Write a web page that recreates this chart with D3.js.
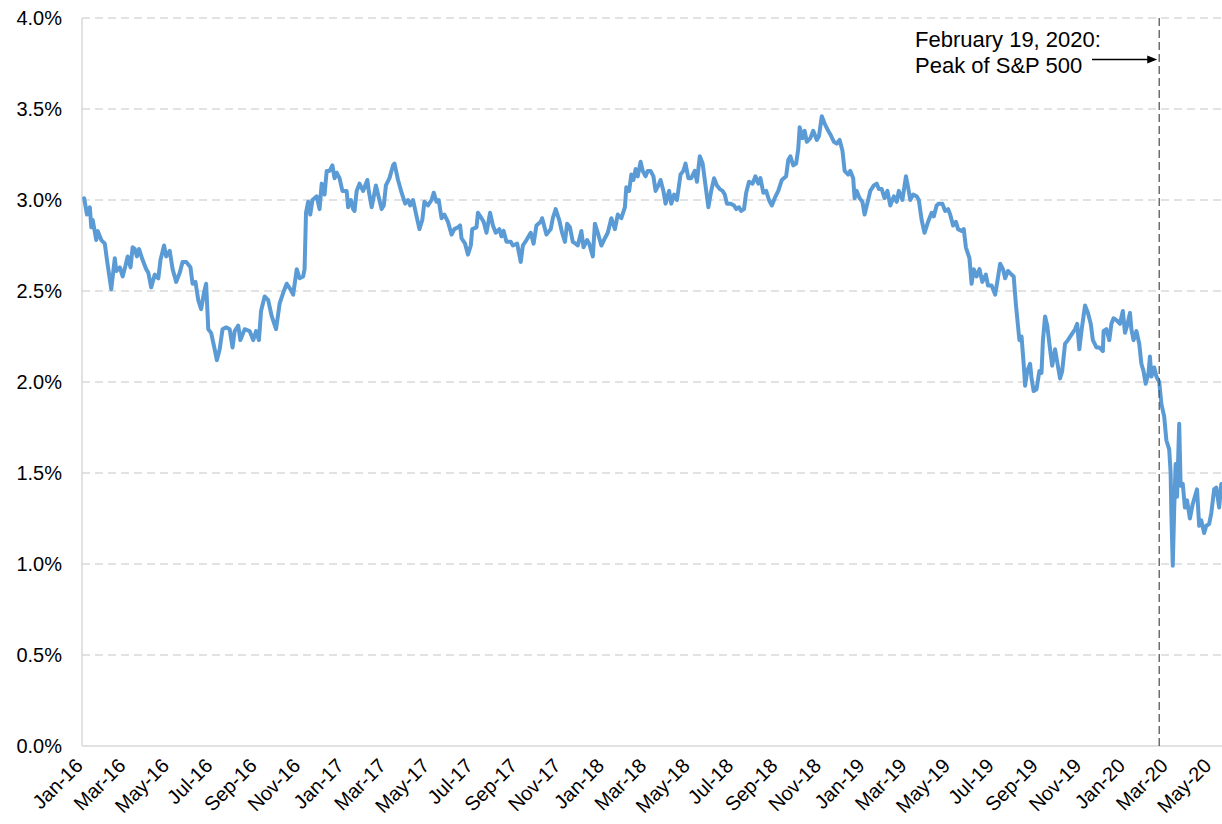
<!DOCTYPE html>
<html>
<head>
<meta charset="utf-8">
<script src="https://cdn.jsdelivr.net/npm/d3@7"></script>
<style>
  body { margin: 0; background: #fff; }
  svg { display: block; font-family: Arial, "Liberation Sans", sans-serif; }
</style>
</head>
<body>
<svg id="chart" width="1222" height="824"></svg>
<script>
// 30-year yield (date, percent)
const yields2016 = [
  ["2016-01-04",3.01],["2016-01-08",2.92],["2016-01-12",2.96],["2016-01-14",2.85],["2016-01-16",2.89],
  ["2016-01-21",2.78],["2016-01-23",2.83],["2016-01-28",2.78],["2016-02-02",2.76],["2016-02-05",2.67],
  ["2016-02-11",2.51],["2016-02-16",2.68],["2016-02-18",2.61],["2016-02-23",2.63],["2016-02-27",2.58],
  ["2016-03-02",2.64],["2016-03-05",2.69],["2016-03-09",2.63],["2016-03-12",2.74],["2016-03-15",2.73],
  ["2016-03-18",2.69],["2016-03-21",2.73],["2016-03-26",2.67],["2016-03-31",2.62],["2016-04-03",2.60],
  ["2016-04-07",2.52],["2016-04-12",2.59],["2016-04-17",2.57],["2016-04-20",2.67],["2016-04-25",2.75],
  ["2016-04-28",2.69],["2016-05-03",2.72],["2016-05-07",2.62],["2016-05-12",2.55],["2016-05-17",2.60],
  ["2016-05-21",2.66],["2016-05-26",2.66],["2016-06-01",2.63],["2016-06-04",2.54],["2016-06-08",2.55],
  ["2016-06-12",2.45],["2016-06-16",2.40],["2016-06-20",2.49],["2016-06-23",2.54],["2016-06-26",2.29],
  ["2016-06-30",2.27],["2016-07-05",2.18],["2016-07-08",2.12],["2016-07-12",2.18],["2016-07-16",2.29],
  ["2016-07-21",2.30],["2016-07-26",2.29],["2016-07-30",2.19],["2016-08-02",2.28],["2016-08-07",2.31],
  ["2016-08-10",2.23],["2016-08-16",2.29],["2016-08-23",2.28],["2016-08-28",2.23],["2016-09-01",2.28],
  ["2016-09-05",2.23],["2016-09-08",2.39],["2016-09-13",2.47],["2016-09-18",2.45],["2016-09-23",2.36],
  ["2016-09-29",2.29],["2016-10-04",2.43],["2016-10-09",2.49],["2016-10-14",2.54],["2016-10-19",2.51],
  ["2016-10-23",2.48],["2016-10-28",2.62],["2016-11-01",2.57],["2016-11-06",2.58],["2016-11-08",2.62],
  ["2016-11-10",2.93],["2016-11-13",2.99],["2016-11-16",2.92],["2016-11-19",3.00],["2016-11-25",3.02],
  ["2016-11-29",2.95],["2016-12-02",3.09],["2016-12-06",3.03],["2016-12-09",3.16],["2016-12-13",3.16],
  ["2016-12-17",3.19],["2016-12-20",3.12],["2016-12-23",3.15],["2016-12-27",3.12],["2016-12-31",3.05]
];
const yields2017 = [
  ["2017-01-06",3.05],["2017-01-08",2.96],["2017-01-12",3.00],["2017-01-15",2.95],["2017-01-17",2.94],
  ["2017-01-20",3.05],["2017-01-24",3.09],["2017-01-29",3.05],["2017-02-04",3.11],["2017-02-06",3.05],
  ["2017-02-10",2.96],["2017-02-16",3.08],["2017-02-19",3.03],["2017-02-24",2.95],["2017-02-27",2.97],
  ["2017-03-02",3.08],["2017-03-07",3.12],["2017-03-12",3.19],["2017-03-14",3.20],["2017-03-19",3.11],
  ["2017-03-24",3.04],["2017-03-29",2.98],["2017-04-02",3.00],["2017-04-05",2.97],["2017-04-09",3.00],
  ["2017-04-14",2.91],["2017-04-18",2.84],["2017-04-22",2.89],["2017-04-25",2.99],["2017-04-30",2.97],
  ["2017-05-05",3.00],["2017-05-08",3.04],["2017-05-12",2.99],["2017-05-15",3.00],["2017-05-19",2.90],
  ["2017-05-23",2.92],["2017-05-28",2.88],["2017-06-02",2.81],["2017-06-06",2.84],["2017-06-11",2.85],
  ["2017-06-14",2.86],["2017-06-16",2.79],["2017-06-21",2.76],["2017-06-25",2.70],["2017-06-29",2.75],
  ["2017-07-01",2.84],["2017-07-07",2.85],["2017-07-09",2.93],["2017-07-14",2.90],["2017-07-17",2.88],
  ["2017-07-21",2.82],["2017-07-26",2.93],["2017-07-30",2.86],["2017-08-03",2.82],["2017-08-08",2.84],
  ["2017-08-11",2.80],["2017-08-14",2.83],["2017-08-18",2.77],["2017-08-24",2.77],["2017-08-27",2.75],
  ["2017-09-02",2.76],["2017-09-07",2.66],["2017-09-10",2.75],["2017-09-15",2.78],["2017-09-21",2.82],
  ["2017-09-25",2.76],["2017-09-29",2.86],["2017-10-05",2.88],["2017-10-07",2.90],["2017-10-13",2.81],
  ["2017-10-19",2.84],["2017-10-22",2.90],["2017-10-26",2.95],["2017-10-31",2.89],["2017-11-04",2.82],
  ["2017-11-08",2.77],["2017-11-11",2.87],["2017-11-15",2.85],["2017-11-19",2.77],["2017-11-23",2.76],
  ["2017-11-26",2.75],["2017-12-01",2.83],["2017-12-04",2.74],["2017-12-09",2.78],["2017-12-12",2.76],
  ["2017-12-17",2.69],["2017-12-20",2.87],["2017-12-24",2.82],["2017-12-29",2.75]
];
const yields2018 = [
  ["2018-01-03",2.79],["2018-01-07",2.82],["2018-01-12",2.90],["2018-01-17",2.84],["2018-01-21",2.92],
  ["2018-01-26",2.90],["2018-01-31",2.96],["2018-02-02",3.07],["2018-02-06",3.05],["2018-02-09",3.14],
  ["2018-02-12",3.11],["2018-02-15",3.17],["2018-02-18",3.13],["2018-02-22",3.21],["2018-02-25",3.16],
  ["2018-03-01",3.13],["2018-03-04",3.16],["2018-03-08",3.16],["2018-03-12",3.13],["2018-03-15",3.05],
  ["2018-03-19",3.08],["2018-03-22",3.11],["2018-03-26",3.05],["2018-03-29",2.98],["2018-04-03",3.05],
  ["2018-04-06",2.98],["2018-04-10",3.03],["2018-04-14",3.00],["2018-04-19",3.14],["2018-04-23",3.16],
  ["2018-04-26",3.20],["2018-04-30",3.12],["2018-05-04",3.12],["2018-05-09",3.16],["2018-05-12",3.10],
  ["2018-05-16",3.24],["2018-05-20",3.20],["2018-05-23",3.11],["2018-05-28",2.96],["2018-06-01",3.05],
  ["2018-06-05",3.12],["2018-06-09",3.08],["2018-06-13",3.06],["2018-06-17",3.05],["2018-06-20",3.03],
  ["2018-06-23",2.98],["2018-06-28",2.98],["2018-07-03",2.97],["2018-07-06",2.95],["2018-07-10",2.96],
  ["2018-07-13",2.94],["2018-07-17",2.95],["2018-07-20",3.04],["2018-07-24",3.10],["2018-07-29",3.09],
  ["2018-08-02",3.13],["2018-08-06",3.09],["2018-08-09",3.12],["2018-08-13",3.04],["2018-08-17",3.05],
  ["2018-08-21",3.00],["2018-08-25",2.97],["2018-08-29",3.01],["2018-09-03",3.05],["2018-09-08",3.11],
  ["2018-09-14",3.13],["2018-09-17",3.22],["2018-09-20",3.24],["2018-09-24",3.19],["2018-09-28",3.20],
  ["2018-10-01",3.28],["2018-10-03",3.40],["2018-10-07",3.34],["2018-10-10",3.38],["2018-10-13",3.32],
  ["2018-10-18",3.34],["2018-10-22",3.38],["2018-10-27",3.33],["2018-10-30",3.35],["2018-11-03",3.46],
  ["2018-11-07",3.42],["2018-11-12",3.38],["2018-11-15",3.36],["2018-11-20",3.32],["2018-11-24",3.31],
  ["2018-11-28",3.33],["2018-12-02",3.27],["2018-12-05",3.16],["2018-12-10",3.14],["2018-12-13",3.16],
  ["2018-12-17",3.12],["2018-12-19",3.01],["2018-12-22",3.05],["2018-12-26",3.01],["2018-12-30",2.99]
];
const yields2019 = [
  ["2019-01-02",2.92],["2019-01-07",3.00],["2019-01-10",3.05],["2019-01-15",3.08],["2019-01-19",3.09],
  ["2019-01-22",3.06],["2019-01-26",3.06],["2019-01-30",3.01],["2019-02-03",3.05],["2019-02-07",2.97],
  ["2019-02-12",3.02],["2019-02-16",2.99],["2019-02-19",3.05],["2019-02-24",3.00],["2019-03-01",3.13],
  ["2019-03-04",3.07],["2019-03-07",3.00],["2019-03-11",3.03],["2019-03-16",3.02],["2019-03-19",3.00],
  ["2019-03-23",2.89],["2019-03-27",2.82],["2019-04-01",2.88],["2019-04-06",2.93],["2019-04-09",2.91],
  ["2019-04-13",2.97],["2019-04-16",2.98],["2019-04-21",2.98],["2019-04-25",2.94],["2019-04-29",2.95],
  ["2019-05-02",2.92],["2019-05-06",2.86],["2019-05-10",2.88],["2019-05-13",2.84],["2019-05-18",2.83],
  ["2019-05-21",2.84],["2019-05-24",2.74],["2019-05-29",2.68],["2019-06-01",2.54],["2019-06-04",2.62],
  ["2019-06-08",2.58],["2019-06-12",2.62],["2019-06-16",2.55],["2019-06-21",2.59],["2019-06-24",2.53],
  ["2019-06-29",2.53],["2019-07-04",2.48],["2019-07-07",2.55],["2019-07-11",2.65],["2019-07-15",2.62],
  ["2019-07-18",2.57],["2019-07-22",2.61],["2019-07-27",2.59],["2019-07-30",2.58],["2019-08-02",2.43],
  ["2019-08-07",2.23],["2019-08-10",2.25],["2019-08-13",2.10],["2019-08-15",1.98],["2019-08-18",2.06],
  ["2019-08-22",2.10],["2019-08-24",2.02],["2019-08-27",1.95],["2019-08-31",1.96],["2019-09-04",2.06],
  ["2019-09-07",2.05],["2019-09-09",2.23],["2019-09-12",2.36],["2019-09-15",2.31],["2019-09-19",2.18],
  ["2019-09-22",2.09],["2019-09-26",2.18],["2019-09-29",2.11],["2019-10-03",2.02],["2019-10-06",2.06],
  ["2019-10-10",2.21],["2019-10-14",2.23],["2019-10-19",2.26],["2019-10-24",2.29],["2019-10-27",2.32],
  ["2019-10-30",2.18],["2019-11-02",2.28],["2019-11-07",2.42],["2019-11-11",2.38],["2019-11-15",2.32],
  ["2019-11-18",2.23],["2019-11-23",2.19],["2019-11-27",2.19],["2019-12-02",2.17],["2019-12-03",2.28],
  ["2019-12-07",2.29],["2019-12-11",2.23],["2019-12-14",2.32],["2019-12-17",2.35],["2019-12-21",2.34],
  ["2019-12-26",2.32],["2019-12-30",2.39]
];
const yields2020 = [
  ["2020-01-02",2.27],["2020-01-05",2.31],["2020-01-09",2.38],["2020-01-11",2.29],["2020-01-14",2.23],
  ["2020-01-18",2.28],["2020-01-22",2.21],["2020-01-25",2.10],["2020-01-28",2.06],["2020-01-31",1.99],
  ["2020-02-04",2.05],["2020-02-06",2.14],["2020-02-08",2.03],["2020-02-12",2.08],["2020-02-15",2.03],
  ["2020-02-19",2.00],["2020-02-22",1.88],["2020-02-26",1.81],["2020-02-29",1.68],["2020-03-04",1.63],
  ["2020-03-06",1.50],["2020-03-07",1.28],["2020-03-09",0.99],["2020-03-11",1.30],["2020-03-13",1.55],
  ["2020-03-15",1.37],["2020-03-18",1.77],["2020-03-20",1.43],["2020-03-23",1.44],["2020-03-26",1.31],
  ["2020-03-29",1.35],["2020-04-02",1.25],["2020-04-06",1.33],["2020-04-09",1.37],["2020-04-12",1.41],
  ["2020-04-15",1.21],["2020-04-18",1.24],["2020-04-22",1.17],["2020-04-25",1.21],["2020-04-29",1.22],
  ["2020-05-02",1.28],["2020-05-06",1.41],["2020-05-09",1.42],["2020-05-13",1.31],["2020-05-16",1.44]
];

const yTicks = [0, 0.5, 1.0, 1.5, 2.0, 2.5, 3.0, 3.5, 4.0];
const dateRange = ["2016-01-01", "2020-05-17"];
const peakDate = "2020-02-19";
const noteLines = ["February 19, 2020:", "Peak of S&P 500"];

const parse = d3.timeParse("%Y-%m-%d");
const data = [].concat(yields2016, yields2017, yields2018, yields2019, yields2020)
  .map(([d, v]) => ({ date: parse(d), value: v }));

const svg = d3.select("#chart");
const margin = { top: 18, right: 0, bottom: 78, left: 82 };
const W = 1222, H = 824;

const x = d3.scaleTime()
  .domain(dateRange.map(parse))
  .range([margin.left, W - margin.right]);
const y = d3.scaleLinear()
  .domain([0, 4])
  .range([H - margin.bottom, margin.top]);

// gridlines
svg.append("g")
  .selectAll("line")
  .data(yTicks.filter(t => t > 0))
  .join("line")
  .attr("x1", margin.left).attr("x2", W - margin.right)
  .attr("y1", d => y(d)).attr("y2", d => y(d))
  .attr("stroke", "#d9d9d9")
  .attr("stroke-width", 1.3)
  .attr("stroke-dasharray", "8,5");

// axis lines
svg.append("line")
  .attr("x1", margin.left).attr("x2", margin.left)
  .attr("y1", y(4)).attr("y2", y(0))
  .attr("stroke", "#d9d9d9").attr("stroke-width", 1.5);
svg.append("line")
  .attr("x1", margin.left).attr("x2", W - margin.right)
  .attr("y1", y(0)).attr("y2", y(0))
  .attr("stroke", "#d9d9d9").attr("stroke-width", 1.5);

// y labels
const pct = d3.format(".1%");
svg.append("g")
  .selectAll("text")
  .data(yTicks)
  .join("text")
  .attr("x", margin.left - 20)
  .attr("y", d => y(d))
  .attr("dy", "0.36em")
  .attr("text-anchor", "end")
  .attr("font-size", 20)
  .attr("fill", "#000")
  .text(d => pct(d / 100));

// x labels, every two months, rotated
const fmt = d3.timeFormat("%b-%y");
svg.append("g")
  .selectAll("text")
  .data(x.ticks(d3.timeMonth.every(2)))
  .join("text")
  .attr("transform", d => `translate(${x(d) + 2},${y(0) + 21}) rotate(-45)`)
  .attr("text-anchor", "end")
  .attr("font-size", 20)
  .attr("fill", "#000")
  .text(d => fmt(d));

// yield line
const line = d3.line()
  .x(d => x(d.date))
  .y(d => y(d.value));
svg.append("path")
  .datum(data)
  .attr("d", line)
  .attr("fill", "none")
  .attr("stroke", "#5b9bd5")
  .attr("stroke-width", 4)
  .attr("stroke-linejoin", "round")
  .attr("stroke-linecap", "round");

// S&P peak marker
const px = x(parse(peakDate));
svg.append("line")
  .attr("x1", px).attr("x2", px)
  .attr("y1", y(4)).attr("y2", y(0))
  .attr("stroke", "#595959")
  .attr("stroke-width", 1.3)
  .attr("stroke-dasharray", "8,4");

const note = svg.append("text")
  .attr("x", 915)
  .attr("y", 47)
  .attr("font-size", 22)
  .attr("fill", "#000");
note.selectAll("tspan")
  .data(noteLines)
  .join("tspan")
  .attr("x", 915)
  .attr("dy", (d, i) => i === 0 ? 0 : 26)
  .text(d => d);

// arrow pointing at the marker
const ay = 59.5;
svg.append("line")
  .attr("x1", 1092).attr("x2", px - 10)
  .attr("y1", ay).attr("y2", ay)
  .attr("stroke", "#000").attr("stroke-width", 1.3);
svg.append("path")
  .attr("d", `M${px - 2},${ay} L${px - 12},${ay - 4} L${px - 12},${ay + 4} Z`)
  .attr("fill", "#000");
</script>
</body>
</html>
